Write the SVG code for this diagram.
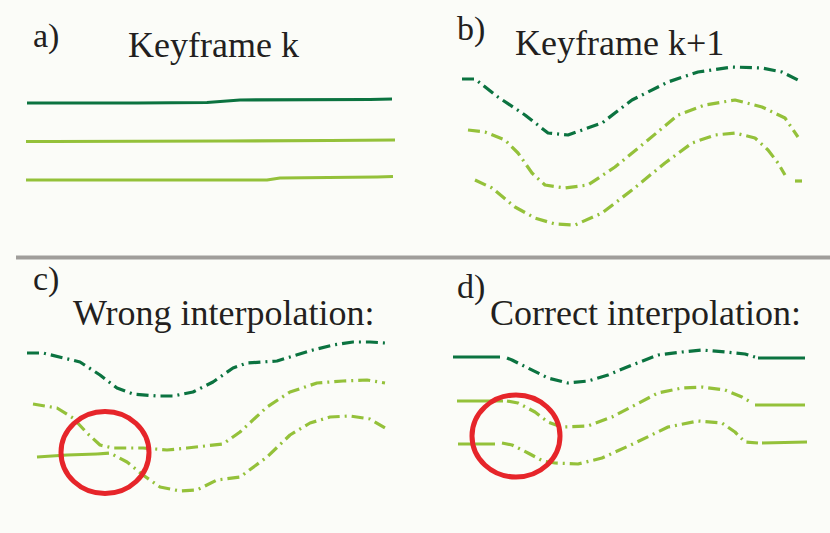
<svg xmlns="http://www.w3.org/2000/svg" width="830" height="533" viewBox="0 0 830 533">
<style>
text{font-family:'Liberation Serif','DejaVu Serif','Times New Roman',serif;fill:#231f20}
.lbl{font-size:34px}
.ttl{font-size:36px}
.ln{fill:none;stroke-width:3.2;stroke-linejoin:round}
.dk{stroke:#0b7340}
.lt{stroke:#94c13a}
.dd{stroke-dasharray:12 5 2 5}
.ring{fill:none;stroke:#e6252a;stroke-width:5}
</style>
<rect width="830" height="533" fill="#fbfcf8"/>
<rect x="16" y="255.5" width="814" height="4" fill="#a09e9b"/>

<g id="panel-a">
<text class="lbl" x="33" y="47" font-family="Liberation Serif, serif">a)</text>
<text class="ttl" x="128" y="57" font-family="Liberation Serif, serif">Keyframe k</text>
<polyline class="ln dk" points="27,103 137,103 207,102.5 240,100 370,99.5 392,99"/>
<polyline class="ln lt" points="26,141.5 52,141.5 225,141 330,140.5 395,140"/>
<polyline class="ln lt" points="26,180 267,180 280,178 377,177 393,176.5"/>
</g>

<g id="panel-b">
<text class="lbl" x="457" y="40" font-family="Liberation Serif, serif">b)</text>
<text class="ttl" x="515" y="55" font-family="Liberation Serif, serif">Keyframe k+1</text>
<polyline class="ln dk dd" points="462,79 475,79 498,97 525,115 548,133 568,135 602,123 632,100 668,82 698,72 732,67 762,68 782,72 802,82"/>
<polyline class="ln lt dd" points="468,130 485,132 505,140 518,153 532,173 545,185 565,188 588,185 615,167 648,140 678,115 705,105 735,100 762,107 785,118 798,137"/>
<polyline class="ln lt dd" points="475,180 492,188 515,207 535,218 555,224 575,225 602,213 632,190 665,163 692,143 715,135 735,133 755,138 768,150 778,163 785,175"/>
<line class="ln lt" x1="795" y1="181" x2="802" y2="181"/>
</g>

<g id="panel-c">
<text class="lbl" x="33" y="290" font-family="Liberation Serif, serif">c)</text>
<text class="ttl" x="73" y="325" font-family="Liberation Serif, serif">Wrong interpolation:</text>
<polyline class="ln dk dd" points="27,353 43,353 80,362 100,375 117,388 133,394 157,396 173,396 193,392 213,382 233,368 247,363 277,361 290,357 313,350 333,345 353,342 370,342 385,343"/>
<polyline class="ln lt dd" points="33,404 57,408 73,418 87,433 100,445 113,448 143,448 167,450 187,448 223,444 240,432 267,407 290,392 317,383 343,381 367,380 385,383"/>
<polyline class="ln lt" points="37,457 67,455 97,454"/>
<polyline class="ln lt dd" points="97,454 110,453 127,462 143,475 160,487 180,491 197,490 217,480 240,477 267,457 290,435 310,423 330,417 350,416 370,419 385,428"/>
<ellipse class="ring" cx="105" cy="452.5" rx="44" ry="41"/>
</g>

<g id="panel-d">
<text class="lbl" x="457" y="298" font-family="Liberation Serif, serif">d)</text>
<text class="ttl" x="490" y="325" font-family="Liberation Serif, serif">Correct interpolation:</text>
<polyline class="ln dk" points="453,357 500,357"/>
<polyline class="ln dk dd" points="507,358 512,360 528,368 548,378 568,383 588,381 608,375 632,365 658,355 682,352 702,350 725,352 745,354 755,357"/>
<polyline class="ln dk" points="758,358 805,358"/>
<polyline class="ln lt" points="457,401 503,401"/>
<polyline class="ln lt dd" points="507,401 518,403 535,412 548,422 562,427 588,426 612,417 635,405 658,393 682,388 702,387 725,390 742,397 752,403"/>
<polyline class="ln lt" points="755,405 805,405"/>
<polyline class="ln lt" points="458,444 495,444"/>
<polyline class="ln lt dd" points="502,443 512,445 528,453 543,461 555,463 578,464 602,458 635,443 668,427 698,421 722,423 735,432 745,442 758,443"/>
<polyline class="ln lt" points="762,443 807,442"/>
<ellipse class="ring" cx="516" cy="436" rx="44" ry="41"/>
</g>
</svg>
